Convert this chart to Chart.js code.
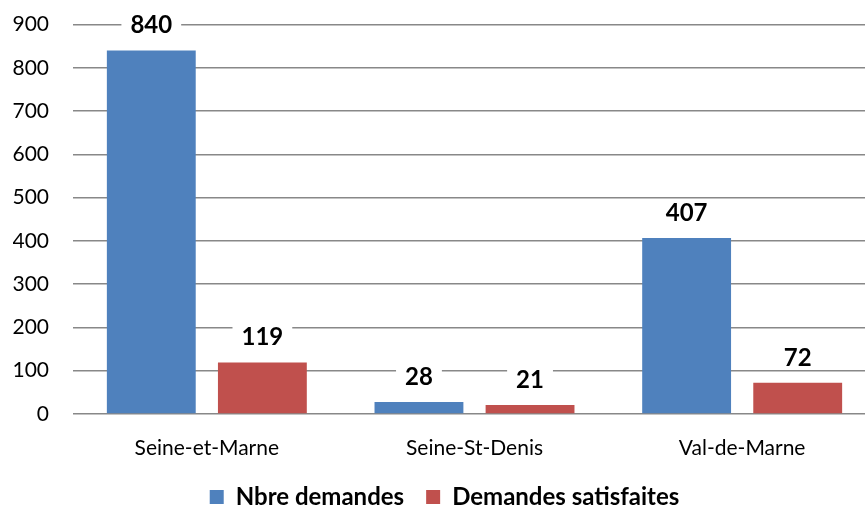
<!DOCTYPE html>
<html>
<head>
<meta charset="utf-8">
<script src="https://cdn.jsdelivr.net/npm/chart.js@4"></script>
<style>
  html, body { margin: 0; padding: 0; background: #fff; overflow: hidden; }
  #wrap { width: 876px; height: 531px; position: relative; top: -12px; }
</style>
</head>
<body>
<div id="wrap"><canvas id="wykres"></canvas></div>
<script>
var departements = ['Seine-et-Marne', 'Seine-St-Denis', 'Val-de-Marne'];
var nbreDemandes = [840, 28, 407];
var demandesSatisfaites = [119, 21, 72];
var yTicks = [0, 100, 200, 300, 400, 500, 600, 700, 800, 900];

// etiquettes au-dessus des barres, fond blanc qui coupe la grille
var etiquettes = {
  id: 'etiquettes',
  afterDatasetsDraw: function (chart) {
    var ctx = chart.ctx;
    ctx.save();
    ctx.font = 'bold 24px Lato';
    ctx.textAlign = 'center';
    ctx.textBaseline = 'middle';
    chart.data.datasets.forEach(function (ds, i) {
      chart.getDatasetMeta(i).data.forEach(function (bar, j) {
        var txt = String(ds.data[j]);
        var y = bar.y - 26;
        var w = ctx.measureText(txt).width + 18;
        ctx.fillStyle = '#fff';
        ctx.fillRect(bar.x - w / 2, y - 10, w, 20);
        ctx.fillStyle = '#000';
        ctx.fillText(txt, bar.x, y + 1);
      });
    });
    ctx.restore();
  }
};

new Chart(document.getElementById('wykres'), {
  type: 'bar',
  data: {
    labels: departements,
    datasets: [{
        label: 'Nbre demandes',
        backgroundColor: '#4F81BD',
        data: nbreDemandes
      },
      {
        label: 'Demandes satisfaites',
        backgroundColor: '#C0504D',
        data: demandesSatisfaites
      }
    ]
  },
  options: {
    responsive: true,
    maintainAspectRatio: false,
    animation: false,
    layout: { padding: { top: 1, left: 13, right: 0, bottom: 0 } },
    datasets: { bar: { categoryPercentage: 0.83, barPercentage: 0.8 } },
    plugins: {
      tooltip: { enabled: false },
      legend: {
        position: 'bottom',
        labels: {
          color: '#000',
          font: { family: 'Lato', size: 24, weight: 'bold' },
          boxWidth: 14,
          boxHeight: 14,
          padding: 22
        }
      }
    },
    scales: {
      x: {
        grid: { display: false },
        border: { display: false },
        afterFit: function (axis) { axis.height = 49; },
        ticks: { color: '#000', padding: 14, font: { family: 'Lato', size: 21 } }
      },
      y: {
        min: 0,
        max: 900,
        afterBuildTicks: function (axis) {
          axis.ticks = yTicks.map(function (v) { return { value: v }; });
        },
        afterFit: function (axis) { axis.width = 60; },
        grid: { color: '#888888', lineWidth: 1.5, drawTicks: false },
        border: { display: false },
        ticks: { color: '#000', padding: 24, font: { family: 'Lato', size: 21 } }
      }
    }
  },
  plugins: [etiquettes]
});
</script>
</body>
</html>
